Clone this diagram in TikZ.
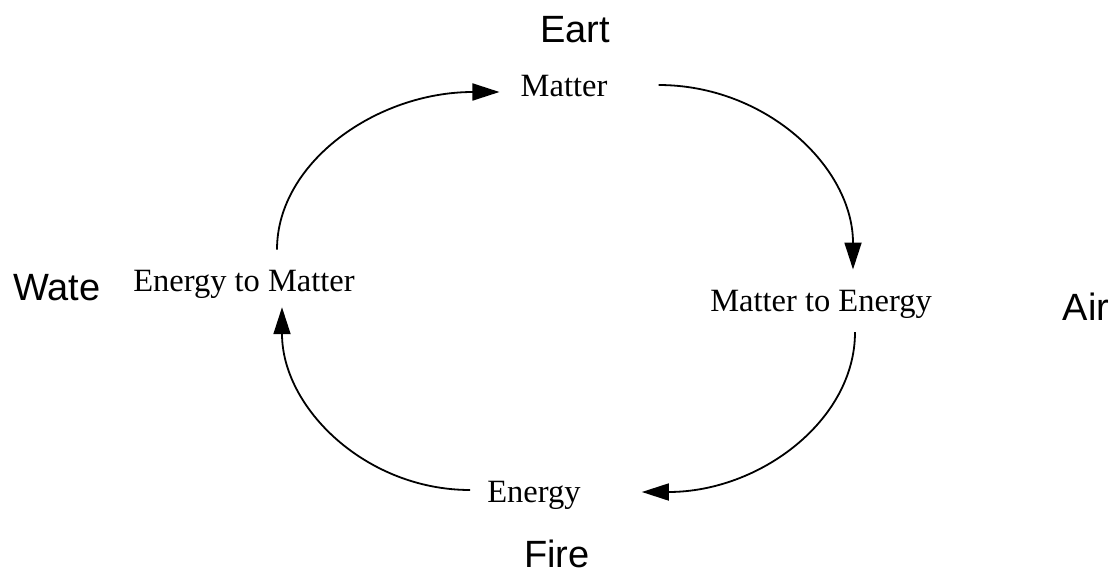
\documentclass[tikz,border=0pt]{standalone}
\usepackage{fontspec}
\setmainfont{Liberation Serif}
\newfontfamily\labelsans{Liberation Sans}
\usetikzlibrary{arrows.meta,calc}
\tikzset{
  phase/.style={inner sep=0pt, anchor=base, font=\fontsize{32.5}{34}\selectfont},
  element/.style={inner sep=0pt, anchor=base, font=\labelsans\fontsize{38}{40}\selectfont},
  flow/.style={line width=1.8pt, -{Triangle[length=27pt,width=17pt]}}
}
\begin{document}
\begin{tikzpicture}[x=1pt,y=-1pt]
\useasboundingbox (0,0) rectangle (1115,575);
% element labels
\node[element] (earth) at (575,43) {Eart};
\node[element] (water) at (57,300) {Wate};
\node[element] (air) at (1086,320) {Air};
\node[element] (fire) at (557,567) {Fire};
% phase labels
\node[phase] (mat) at (564,97) {Matter};
\node[phase] (m2e) at (821,311) {Matter to Energy};
\node[phase] (en) at (534,502) {Energy};
\node[phase] (e2m) at (244,291) {Energy to Matter};
% cycle connectors
\draw[flow] ($(e2m.north)+(33,-20)$) .. controls +(0,-87) and +(-123,0) .. ($(mat.base west)+(-21,-5)$);
\draw[flow] ($(mat.base east)+(51,-12)$) .. controls +(108,0) and +(0,-102) .. ($(m2e.north)+(32,-20)$);
\draw[flow] ($(m2e.south)+(34,14)$) .. controls +(0,88) and +(118,0) .. ($(en.base east)+(61,-10)$);
\draw[flow] ($(en.base west)+(-17,-12)$) .. controls +(-104,0) and +(0,101) .. ($(e2m.south)+(38,9)$);
\end{tikzpicture}
\end{document}
